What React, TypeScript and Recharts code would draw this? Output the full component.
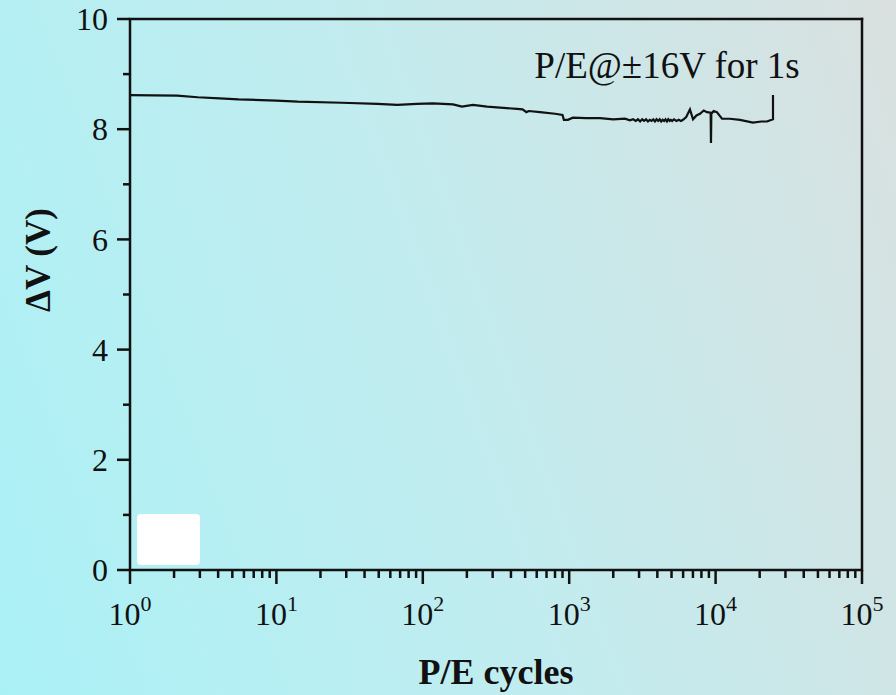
import React from 'react';
import { LineChart, Line, XAxis, YAxis, ReferenceLine, ReferenceDot } from 'recharts';

// P/E endurance: memory window ΔV versus program/erase cycle count
const cycles: number[] = [
  1, 2.1, 2.9, 4.1, 5.5, 10, 14, 28, 49, 67, 91, 117, 161, 185, 220, 275, 337, 440,
  480, 510, 530, 632, 800, 900, 920, 980, 1060, 1300, 1624, 2000, 2400, 2600, 2730,
  2850, 2950, 3050, 3150, 3250, 3350, 3450, 3550, 3650, 3750, 3850, 3950, 4050,
  4150, 4250, 4350, 4450, 4550, 4650, 4750, 4850, 4950, 5050, 5200, 5400, 5600, 5800, 5990,
  6300, 6680, 7015, 7400, 7820, 8300, 8730, 9250, 9300, 9350, 9700, 10200,
  11060, 12500, 14680, 18000, 20500, 22440, 24660, 24660,
];
const deltaV: number[] = [
  8.62, 8.61, 8.58, 8.56, 8.54, 8.52, 8.5, 8.48, 8.46, 8.44, 8.46, 8.47, 8.45, 8.41, 8.44, 8.41, 8.39, 8.37,
  8.36, 8.31, 8.33, 8.31, 8.28, 8.26, 8.17, 8.17, 8.21, 8.2, 8.2, 8.18, 8.19, 8.16, 8.18,
  8.15, 8.18, 8.14, 8.18, 8.15, 8.18, 8.14, 8.17, 8.15, 8.18, 8.14, 8.18, 8.15,
  8.18, 8.14, 8.17, 8.15, 8.18, 8.14, 8.18, 8.15, 8.17, 8.15, 8.18, 8.15, 8.17, 8.15, 8.17,
  8.22, 8.36, 8.18, 8.25, 8.28, 8.34, 8.31, 8.3, 7.75, 8.28, 8.33, 8.31,
  8.19, 8.19, 8.17, 8.12, 8.14, 8.14, 8.18, 8.62,
];

const yTicks: number[] = [0, 1, 2, 3, 4, 5, 6, 7, 8, 9, 10];
const yLabels: number[] = [0, 2, 4, 6, 8, 10];
const decades: number[] = [0, 1, 2, 3, 4, 5];
const xTicks: number[] = decades.flatMap((e) =>
  e < 5 ? [1, 2, 3, 4, 5, 6, 7, 8, 9].map((m) => m * Math.pow(10, e)) : [Math.pow(10, e)]
);

const annotation = 'P/E@±16V for 1s';
const annotationAt = { x: 4660, y: 8.93 };

const data = cycles.map((c, i) => ({ cycles: c, dv: deltaV[i] }));

const FONT = '"Liberation Serif", "Times New Roman", serif';
const INK = '#111';

const XTick = (props: any) => {
  const { x, y, payload } = props;
  const v = payload.value as number;
  const e = Math.round(Math.log10(v));
  const major = Math.abs(Math.pow(10, e) - v) < 1e-6 * v;
  return (
    <g>
      <line x1={x} x2={x} y1={y} y2={y + (major ? 14 : 8)} stroke={INK} strokeWidth={2.5} />
      {major && (
        <text x={x} y={y + 55} textAnchor="middle" fontFamily={FONT} fontSize={32} fill={INK}>
          10
          <tspan dy={-14} fontSize={22}>{e}</tspan>
        </text>
      )}
    </g>
  );
};

const YTick = (props: any) => {
  const { x, y, payload } = props;
  const v = payload.value as number;
  const major = yLabels.includes(v);
  return (
    <g>
      <line x1={x - (major ? 13 : 7)} x2={x} y1={y} y2={y} stroke={INK} strokeWidth={2.5} />
      {major && (
        <text x={x - 22} y={y} dy="0.35em" textAnchor="end" fontFamily={FONT} fontSize={32} fill={INK}>
          {v}
        </text>
      )}
    </g>
  );
};

const XTitle = (props: any) => {
  const vb = props.viewBox;
  return (
    <text x={vb.x + vb.width / 2} y={vb.y + 114} textAnchor="middle" fontFamily={FONT} fontWeight="bold" fontSize={36} fill={INK}>
      P/E cycles
    </text>
  );
};

const YTitle = (props: any) => {
  const vb = props.viewBox;
  const cx = vb.x;
  const cy = 260;
  return (
    <text x={cx} y={cy} transform={`rotate(-90 ${cx} ${cy})`} textAnchor="middle" fontFamily={FONT} fontWeight="bold" fontSize={35} fill={INK}>
      ΔV (V)
    </text>
  );
};

const AnnotationText = (props: any) => (
  <text x={props.cx} y={props.cy} textAnchor="middle" fontFamily={FONT} fontSize={37} fill={INK}>
    {annotation}
  </text>
);

export default function App() {
  return (
    <div
      style={{
        position: 'absolute',
        left: 0,
        top: 0,
        width: 896,
        height: 695,
        background: 'linear-gradient(70deg, #aaf1f6 0%, #c2ecef 50%, #d9e0df 100%)',
        overflow: 'hidden',
      }}
    >
      <LineChart width={896} height={695} data={data} margin={{ top: 19, right: 34, bottom: 65, left: 50 }}>
        <XAxis
          dataKey="cycles"
          type="number"
          scale="log"
          domain={[1, 100000]}
          ticks={xTicks}
          interval={0}
          allowDataOverflow
          height={60}
          tickSize={0}
          tickMargin={0}
          tickLine={false}
          axisLine={{ stroke: INK, strokeWidth: 2.5 }}
          tick={<XTick />}
          label={<XTitle />}
        />
        <YAxis
          type="number"
          domain={[0, 10]}
          ticks={yTicks}
          interval={0}
          width={80}
          tickSize={0}
          tickMargin={0}
          tickLine={false}
          axisLine={{ stroke: INK, strokeWidth: 2.5 }}
          tick={<YTick />}
          label={<YTitle />}
        />
        <ReferenceLine y={10} stroke={INK} strokeWidth={2.5} strokeLinecap="square" />
        <ReferenceLine x={100000} stroke={INK} strokeWidth={2.5} strokeLinecap="square" />
        <Line
          dataKey="dv"
          type="linear"
          stroke={INK}
          strokeWidth={2.2}
          dot={false}
          isAnimationActive={false}
        />
        <ReferenceDot x={annotationAt.x} y={annotationAt.y} r={0} shape={<AnnotationText />} />
      </LineChart>
      <div
        style={{
          position: 'absolute',
          left: 137,
          top: 514,
          width: 63,
          height: 51,
          background: '#fff',
          borderRadius: 4,
        }}
      />
    </div>
  );
}
